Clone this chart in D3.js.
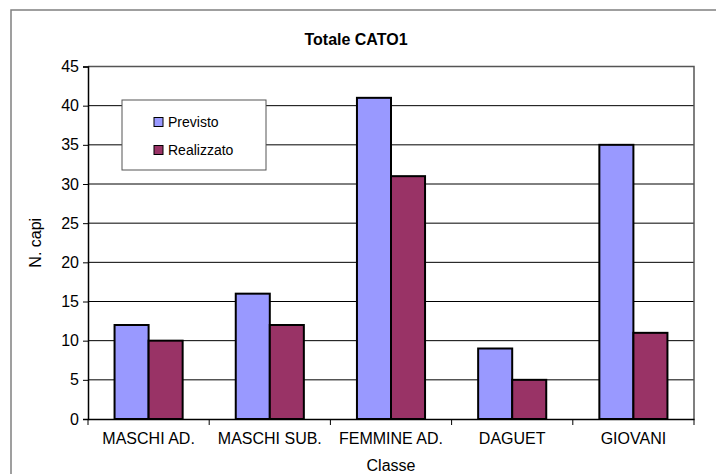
<!DOCTYPE html>
<html lang="it">
<head>
    <meta charset="UTF-8">
    <title>Totale CATO1</title>
    <style>
        body { margin: 0; background: #fff; }
        svg { display: block; font-family: "Liberation Sans", Arial, sans-serif; }
    </style>
</head>
<body>
<svg id="chart" width="716" height="474"></svg>

<script src="https://d3js.org/d3.v7.min.js"></script>
<script>
    // Chart data
    const categories = ["MASCHI AD.", "MASCHI SUB.", "FEMMINE AD.", "DAGUET", "GIOVANI"];
    const seriesNames = ["Previsto", "Realizzato"];
    const previsto = [12, 16, 41, 9, 35];
    const realizzato = [10, 12, 31, 5, 11];
    const yTicks = [0, 5, 10, 15, 20, 25, 30, 35, 40, 45];
    const colors = ["#9999ff", "#993366"];

    const svg = d3.select("#chart");

    // outer chart border
    svg.append("rect")
        .attr("x", 11).attr("y", 10)
        .attr("width", 740).attr("height", 500)
        .attr("fill", "none")
        .attr("stroke", "#808080")
        .attr("stroke-width", 1.5);

    const plot = {left: 88, top: 66.5, right: 694, bottom: 419};

    const x = d3.scaleBand()
        .domain(categories)
        .range([plot.left, plot.right]);

    const x1 = d3.scaleBand()
        .domain(seriesNames)
        .range([0, x.bandwidth()])
        .paddingOuter(0.78)
        .paddingInner(0);

    const y = d3.scaleLinear()
        .domain([0, 45])
        .range([plot.bottom, plot.top]);

    // gridlines
    svg.append("g")
        .selectAll("line")
        .data(yTicks.slice(1, -1))
        .enter().append("line")
        .attr("x1", plot.left).attr("x2", plot.right)
        .attr("y1", d => y(d)).attr("y2", d => y(d))
        .attr("stroke", "#000")
        .attr("stroke-width", 1);

    // plot area border (top/right)
    svg.append("path")
        .attr("d", `M${plot.left},${plot.top}H${plot.right}V${plot.bottom}`)
        .attr("fill", "none")
        .attr("stroke", "#555")
        .attr("stroke-width", 1.5);

    // bars
    const rows = categories.map((c, i) => ({cat: c, vals: [previsto[i], realizzato[i]]}));
    const group = svg.append("g")
        .selectAll("g")
        .data(rows)
        .enter().append("g")
        .attr("transform", d => `translate(${x(d.cat)},0)`);

    group.selectAll("rect")
        .data(d => d.vals.map((v, j) => ({name: seriesNames[j], v: v, j: j})))
        .enter().append("rect")
        .attr("x", d => x1(d.name))
        .attr("y", d => y(d.v))
        .attr("width", x1.bandwidth())
        .attr("height", d => y(0) - y(d.v))
        .attr("fill", d => colors[d.j])
        .attr("stroke", "#000")
        .attr("stroke-width", 2);

    // y axis
    const yAxis = svg.append("g")
        .attr("transform", `translate(${plot.left},0)`)
        .call(d3.axisLeft(y).tickValues(yTicks).tickSize(5).tickPadding(4));
    yAxis.select(".domain").attr("stroke", "#000").attr("stroke-width", 1.5);
    yAxis.selectAll(".tick line").attr("stroke", "#000");
    yAxis.selectAll("text").attr("font-size", 16).attr("fill", "#000")
        .attr("font-family", "Liberation Sans, Arial, sans-serif");

    // x axis
    const xAxis = svg.append("g")
        .attr("transform", `translate(0,${plot.bottom})`)
        .call(d3.axisBottom(x).tickSize(0).tickPadding(14));
    xAxis.select(".domain").attr("stroke", "#000").attr("stroke-width", 1.5);
    xAxis.selectAll("text").attr("font-size", 16).attr("fill", "#000")
        .attr("font-family", "Liberation Sans, Arial, sans-serif");

    // x tick marks at band boundaries
    svg.append("g")
        .selectAll("line")
        .data(categories.concat(["end"]))
        .enter().append("line")
        .attr("x1", (d, i) => i < categories.length ? x(d) : plot.right)
        .attr("x2", (d, i) => i < categories.length ? x(d) : plot.right)
        .attr("y1", plot.bottom).attr("y2", plot.bottom + 6)
        .attr("stroke", "#000");

    // title
    svg.append("text")
        .attr("x", 356).attr("y", 45)
        .attr("text-anchor", "middle")
        .attr("font-size", 16)
        .attr("font-weight", "bold")
        .text("Totale CATO1");

    // axis titles
    svg.append("text")
        .attr("x", (plot.left + plot.right) / 2).attr("y", 471)
        .attr("text-anchor", "middle")
        .attr("font-size", 16)
        .text("Classe");

    svg.append("text")
        .attr("transform", `translate(41,${(plot.top + plot.bottom) / 2}) rotate(-90)`)
        .attr("text-anchor", "middle")
        .attr("font-size", 16)
        .text("N. capi");

    // legend
    const legend = svg.append("g").attr("transform", "translate(122,100)");
    legend.append("rect")
        .attr("width", 144).attr("height", 70)
        .attr("fill", "#fff")
        .attr("stroke", "#555")
        .attr("stroke-width", 1);

    const item = legend.selectAll(".item")
        .data(seriesNames)
        .enter().append("g")
        .attr("class", "item")
        .attr("transform", (d, i) => `translate(32,${22 + i * 28})`);
    item.append("rect")
        .attr("x", 0).attr("y", -4.5)
        .attr("width", 9).attr("height", 9)
        .attr("fill", (d, i) => colors[i])
        .attr("stroke", "#000");
    item.append("text")
        .attr("x", 14).attr("y", 5)
        .attr("font-size", 14)
        .text(d => d);
</script>
</body>
</html>
